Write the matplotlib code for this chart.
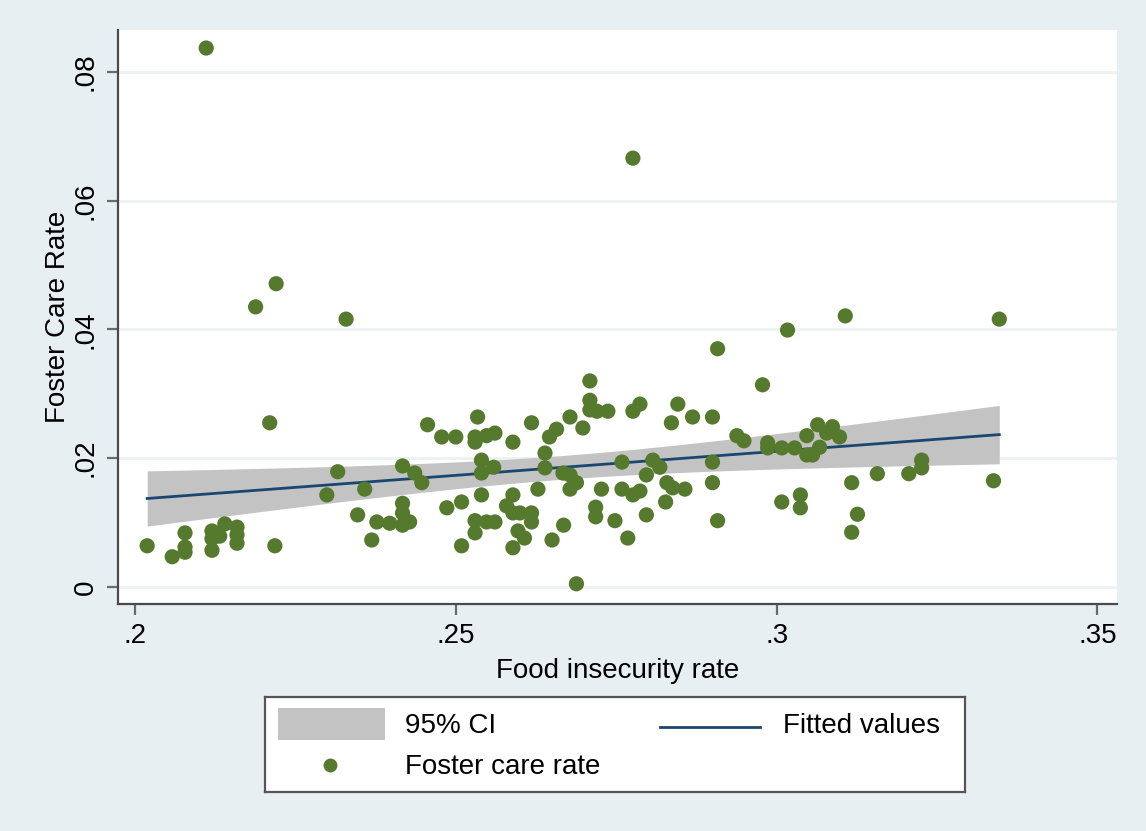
import numpy as np
import matplotlib
matplotlib.use("Agg")
import matplotlib.pyplot as plt
from matplotlib.patches import Rectangle
from matplotlib.lines import Line2D

plt.rcParams["font.family"] = ["Liberation Sans", "DejaVu Sans"]

# County-level observations
food_insecurity = [
    0.2019, 0.2058, 0.2078, 0.2078, 0.2078, 0.2120, 0.2120, 0.2120, 0.2140, 0.2132,
    0.2159, 0.2159, 0.2159, 0.2210, 0.2218, 0.2111, 0.2188, 0.2220, 0.2329, 0.2299,
    0.2316, 0.2347, 0.2358, 0.2369, 0.2377, 0.2397, 0.2417, 0.2417, 0.2417, 0.2417,
    0.2428, 0.2436, 0.2447, 0.2456, 0.2478, 0.2486, 0.2500, 0.2530, 0.2530, 0.2534,
    0.2540, 0.2540, 0.2559, 0.2548, 0.2561, 0.2509, 0.2530, 0.2530, 0.2509, 0.2540,
    0.2548, 0.2561, 0.2589, 0.2618, 0.2646, 0.2657, 0.2678, 0.2698, 0.2639, 0.2639,
    0.2667, 0.2678, 0.2688, 0.2678, 0.2628, 0.2589, 0.2579, 0.2589, 0.2600, 0.2618,
    0.2618, 0.2597, 0.2607, 0.2589, 0.2650, 0.2668, 0.2688, 0.2718, 0.2718, 0.2748,
    0.2768, 0.2797, 0.2709, 0.2709, 0.2709, 0.2720, 0.2737, 0.2776, 0.2787, 0.2776,
    0.2759, 0.2727, 0.2759, 0.2776, 0.2787, 0.2797, 0.2807, 0.2818, 0.2829, 0.2838,
    0.2857, 0.2827, 0.2846, 0.2836, 0.2869, 0.2900, 0.2900, 0.2900, 0.2908, 0.2908,
    0.2938, 0.2949, 0.2978, 0.2986, 0.2986, 0.3008, 0.3028, 0.3047, 0.3064, 0.3047,
    0.3056, 0.3067, 0.3087, 0.3098, 0.3078, 0.3017, 0.3008, 0.3037, 0.3037, 0.3107,
    0.3347, 0.3117, 0.3157, 0.3206, 0.3226, 0.3226, 0.3338, 0.3126, 0.3117,
]
foster_care = [
    0.0064, 0.0047, 0.0084, 0.0062, 0.0054, 0.0087, 0.0075, 0.0057, 0.0098, 0.0079,
    0.0093, 0.0081, 0.0068, 0.0255, 0.0064, 0.0837, 0.0435, 0.0471, 0.0416, 0.0143,
    0.0179, 0.0112, 0.0152, 0.0073, 0.0101, 0.0099, 0.0188, 0.0130, 0.0115, 0.0096,
    0.0101, 0.0177, 0.0162, 0.0252, 0.0233, 0.0123, 0.0233, 0.0233, 0.0225, 0.0264,
    0.0197, 0.0177, 0.0186, 0.0235, 0.0239, 0.0132, 0.0103, 0.0084, 0.0064, 0.0143,
    0.0101, 0.0101, 0.0225, 0.0255, 0.0233, 0.0245, 0.0264, 0.0247, 0.0208, 0.0185,
    0.0177, 0.0174, 0.0162, 0.0152, 0.0152, 0.0143, 0.0126, 0.0115, 0.0115, 0.0115,
    0.0101, 0.0087, 0.0076, 0.0061, 0.0073, 0.0096, 0.0005, 0.0124, 0.0109, 0.0103,
    0.0076, 0.0112, 0.0320, 0.0290, 0.0275, 0.0273, 0.0273, 0.0273, 0.0284, 0.0666,
    0.0194, 0.0152, 0.0152, 0.0143, 0.0149, 0.0174, 0.0197, 0.0186, 0.0162, 0.0154,
    0.0152, 0.0132, 0.0284, 0.0255, 0.0264, 0.0264, 0.0194, 0.0162, 0.0103, 0.0370,
    0.0235, 0.0227, 0.0314, 0.0224, 0.0216, 0.0216, 0.0216, 0.0235, 0.0252, 0.0205,
    0.0205, 0.0217, 0.0249, 0.0233, 0.0239, 0.0399, 0.0132, 0.0143, 0.0123, 0.0421,
    0.0416, 0.0162, 0.0176, 0.0176, 0.0197, 0.0185, 0.0165, 0.0113, 0.0085,
]

x_ticks = [0.20, 0.25, 0.30, 0.35]
x_tick_labels = [".2", ".25", ".3", ".35"]
y_ticks = [0.00, 0.02, 0.04, 0.06, 0.08]
y_tick_labels = ["0", ".02", ".04", ".06", ".08"]

BG = "#e8eff2"
GREEN = "#557a2e"
NAVY = "#1a476f"
BAND = "#c3c3c3"
GRID = "#eaf2f3"
AXIS = "#4a4a4a"
FS = 20

# Linear fit with 95% confidence interval of the mean prediction
x = np.asarray(food_insecurity)
y = np.asarray(foster_care)
n = x.size
slope, intercept = np.polyfit(x, y, 1)
resid = y - (intercept + slope * x)
s = np.sqrt(np.sum(resid ** 2) / (n - 2))
sxx = np.sum((x - x.mean()) ** 2)
t_crit = 1.977
xs = np.linspace(x.min(), x.max(), 200)
fit = intercept + slope * xs
half = t_crit * s * np.sqrt(1.0 / n + (xs - x.mean()) ** 2 / sxx)

W, H = 1146, 831
fig = plt.figure(figsize=(W / 100, H / 100), dpi=100, facecolor=BG)

ax = fig.add_axes([118.3 / W, 1 - 604 / H, (1116.7 - 118.3) / W, (604 - 30) / H])
ax.set_facecolor("white")
ax.set_xlim(0.1974, 0.3530)
ax.set_ylim(-0.00264, 0.0865)

for yt in y_ticks:
    ax.axhline(yt, color=GRID, lw=2.0, zorder=0)

ax.fill_between(xs, fit - half, fit + half, color=BAND, lw=0, zorder=1)
ax.plot(xs, fit, color=NAVY, lw=2.0, zorder=2)
ax.scatter(x, y, s=120, color=GREEN, edgecolors="none", zorder=3)

for side in ("top", "right"):
    ax.spines[side].set_visible(False)
for side in ("left", "bottom"):
    ax.spines[side].set_color(AXIS)
    ax.spines[side].set_linewidth(1.6)

ax.set_xticks(x_ticks)
ax.set_xticklabels(x_tick_labels)
ax.set_yticks(y_ticks)
ax.set_yticklabels(y_tick_labels, rotation=90, va="center")
ax.tick_params(axis="both", length=8, width=1.6, color="#6a6a6a",
               labelsize=FS, pad=6)
ax.tick_params(axis="y", pad=6)

ax.set_xlabel("Food insecurity rate", fontsize=FS, labelpad=6)
ax.set_ylabel("Foster Care Rate", fontsize=FS, labelpad=1)

# Legend box
lx0, ly0, lx1, ly1 = 265, 697, 965, 792
lg = fig.add_axes([lx0 / W, 1 - ly1 / H, (lx1 - lx0) / W, (ly1 - ly0) / H])
lg.set_xlim(0, lx1 - lx0)
lg.set_ylim(ly1 - ly0, 0)
lg.set_xticks([])
lg.set_yticks([])
lg.set_facecolor("white")
for sp in lg.spines.values():
    sp.set_color("#555555")
    sp.set_linewidth(1.6)

lg.add_patch(Rectangle((13, 11), 107, 32, color=BAND, lw=0))
lg.text(140, 29, "95% CI", fontsize=FS, va="center", ha="left")
lg.add_line(Line2D([395, 495], [30, 30], color=NAVY, lw=2.0))
lg.text(518, 29, "Fitted values", fontsize=FS, va="center", ha="left")
lg.plot([65], [68], "o", color=GREEN, markersize=10, markeredgewidth=0)
lg.text(140, 70, "Foster care rate", fontsize=FS, va="center", ha="left")

fig.savefig("out.png", dpi=100, facecolor=BG)
